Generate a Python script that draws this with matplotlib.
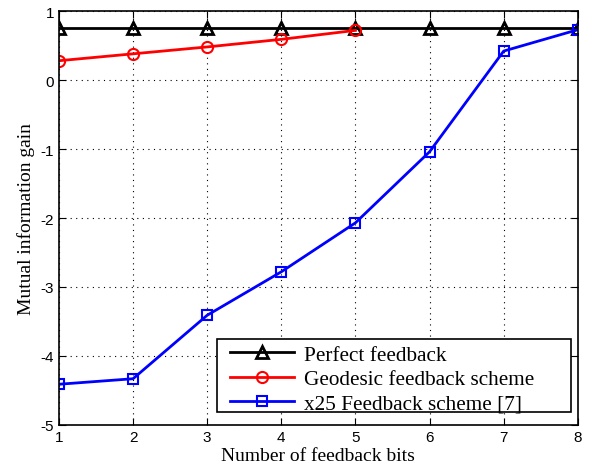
import matplotlib
matplotlib.use('Agg')
import matplotlib.pyplot as plt
from matplotlib.patches import Rectangle

plt.rcParams['axes.unicode_minus'] = False

bits = [1, 2, 3, 4, 5, 6, 7, 8]
perfect = [0.75, 0.75, 0.75, 0.75, 0.75, 0.75, 0.75, 0.75]
geo_bits = [1, 2, 3, 4, 5]
geodesic = [0.28, 0.38, 0.48, 0.59, 0.72]
x25 = [-4.41, -4.33, -3.41, -2.78, -2.07, -1.04, 0.42, 0.73]

fig = plt.figure(figsize=(5.89, 4.64), dpi=100)
ax = fig.add_axes([0.100, 0.082, 0.881, 0.892])

ax.plot(bits, perfect, color='black', lw=2, marker='^', ms=8, mfc='none', mew=2,
        label='Perfect feedback')
ax.plot(geo_bits, geodesic, color='red', lw=2, marker='o', ms=8, mfc='none', mew=1.5,
        label='Geodesic feedback scheme')
ax.plot(bits, x25, color='blue', lw=2, marker='s', ms=7, mfc='none', mew=1.5,
        label='x25 Feedback scheme [7]')

ax.set_xlim(1, 8)
ax.set_ylim(-5, 1)
ax.set_xticks(bits)
ax.set_yticks([-5, -4, -3, -2, -1, 0, 1])
ax.grid(True, color='black', linestyle=(0, (1, 4)), lw=0.8)
ax.tick_params(direction='in', top=True, right=True, labelsize=11, length=5)
for lab in ax.get_xticklabels() + ax.get_yticklabels():
    lab.set_family('Liberation Sans')
for s in ax.spines.values():
    s.set_linewidth(1.2)

ax.set_xlabel('Number of feedback bits', family='Liberation Serif', fontsize=14, labelpad=2)
ax.set_ylabel('Mutual information gain', family='Liberation Serif', fontsize=14, labelpad=4)

# MATLAB-style legend box: wide frame with extra space on the right
box = Rectangle((0.3044, 0.0314), 0.6821, 0.1763, transform=ax.transAxes,
                facecolor='white', edgecolor='black', lw=1.2, zorder=4.5)
ax.add_patch(box)
leg = ax.legend(loc='upper left', bbox_to_anchor=(0.3295, 0.1932), borderaxespad=0,
                prop={'family': 'Liberation Serif', 'size': 15.3}, frameon=False,
                handlelength=3.0, handletextpad=0.5, labelspacing=0.2, borderpad=0)

fig.savefig('out.png', dpi=100)
